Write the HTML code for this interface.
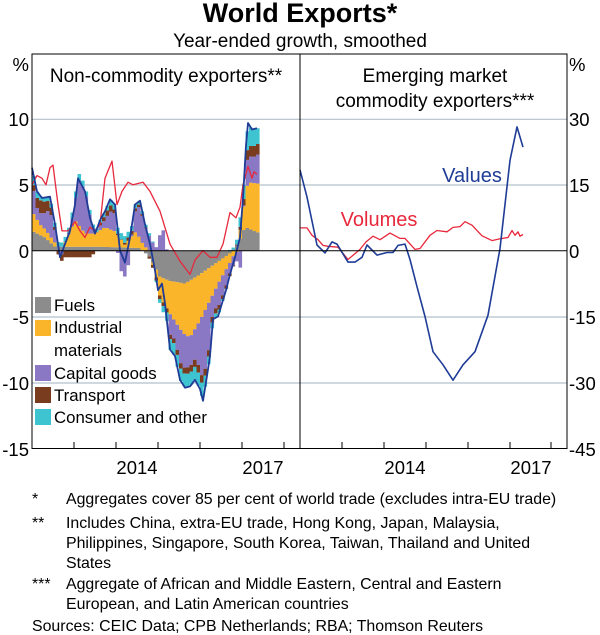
<!DOCTYPE html>
<html><head><meta charset="utf-8"><style>
body{margin:0;background:#fff;width:600px;height:635px;overflow:hidden;font-family:"Liberation Sans",Arial,sans-serif;}
svg{position:absolute;left:0;top:0}
</style></head><body>
<svg id="s" width="600" height="635" xmlns="http://www.w3.org/2000/svg" font-family="Liberation Sans, Arial, sans-serif">
<text x="300" y="22" text-anchor="middle" font-size="27" font-weight="bold">World Exports*</text>
<text x="300" y="47" text-anchor="middle" font-size="19">Year-ended growth, smoothed</text>
<g id="grid" stroke="#b4c0cc" stroke-width="1.2">
<line x1="32" x2="567" y1="119.3" y2="119.3"/><line x1="32" x2="567" y1="185" y2="185"/>
<line x1="32" x2="567" y1="317" y2="317"/><line x1="32" x2="567" y1="383" y2="383"/>
</g>
<g id="bars"></g>
<g id="lines"></g>
<line x1="32" x2="567" y1="250.7" y2="250.7" stroke="#000" stroke-width="1"/>
<rect x="32" y="54" width="535" height="394.5" fill="none" stroke="#000" stroke-width="1"/>
<line x1="300" x2="300" y1="54" y2="448.5" stroke="#000"/>
<g stroke="#000" stroke-width="1">
<line x1="74" x2="74" y1="448" y2="442"/><line x1="116" x2="116" y1="448" y2="442"/><line x1="158" x2="158" y1="448" y2="442"/><line x1="200" x2="200" y1="448" y2="442"/><line x1="242" x2="242" y1="448" y2="442"/><line x1="284" x2="284" y1="448" y2="442"/>
<line x1="342" x2="342" y1="448" y2="442"/><line x1="384" x2="384" y1="448" y2="442"/><line x1="426" x2="426" y1="448" y2="442"/><line x1="468" x2="468" y1="448" y2="442"/><line x1="510" x2="510" y1="448" y2="442"/><line x1="551" x2="551" y1="448" y2="442"/>
</g>
<g font-size="18.5" text-anchor="end">
<text x="29" y="71">%</text>
<text x="29" y="126">10</text><text x="29" y="192">5</text><text x="29" y="258">0</text>
<text x="29" y="324">-5</text><text x="29" y="390">-10</text><text x="29" y="456">-15</text>
</g>
<g font-size="18.5">
<text x="569" y="71">%</text>
<text x="569" y="126">30</text><text x="569" y="192">15</text><text x="569" y="258">0</text>
<text x="569" y="324">-15</text><text x="569" y="390">-30</text><text x="569" y="456">-45</text>
</g>
<g font-size="18.5" text-anchor="middle">
<text x="137" y="474">2014</text><text x="263" y="474">2017</text>
<text x="405" y="474">2014</text><text x="531" y="474">2017</text>
</g>
<g font-size="19" text-anchor="middle">
<text x="166" y="82">Non-commodity exporters**</text>
<text x="435" y="82">Emerging market</text>
<text x="435" y="107">commodity exporters***</text>
</g>
<text x="472" y="182" font-size="20" fill="#1f3c96" text-anchor="middle">Values</text>
<text x="379" y="226" font-size="20" fill="#e8283c" text-anchor="middle">Volumes</text>
<g font-size="16.8">
<rect x="35" y="297" width="16" height="16" fill="#8c8c8c"/><text x="54" y="311">Fuels</text>
<rect x="35" y="320" width="16" height="16" fill="#fbb52a"/><text x="54" y="333">Industrial</text>
<text x="54" y="356">materials</text>
<rect x="35" y="365" width="16" height="16" fill="#8a78c4"/><text x="54" y="379">Capital goods</text>
<rect x="35" y="387" width="16" height="16" fill="#7a3c1e"/><text x="54" y="401">Transport</text>
<rect x="35" y="409" width="16" height="16" fill="#3ec4d0"/><text x="54" y="423">Consumer and other</text>
</g>
<g font-size="15.9">
<text x="32" y="504">*</text><text x="66" y="504">Aggregates cover 85 per cent of world trade (excludes intra-EU trade)</text>
<text x="32" y="528">**</text><text x="66" y="528">Includes China, extra-EU trade, Hong Kong, Japan, Malaysia,</text>
<text x="66" y="548">Philippines, Singapore, South Korea, Taiwan, Thailand and United</text>
<text x="66" y="568">States</text>
<text x="32" y="589">***</text><text x="66" y="589">Aggregate of African and Middle Eastern, Central and Eastern</text>
<text x="66" y="609">European, and Latin American countries</text>
<text x="32" y="631">Sources: CEIC Data; CPB Netherlands; RBA; Thomson Reuters</text>
</g>
</svg>
<script>
function interp(pts,x){for(var i=0;i<pts.length-1;i++){if(x<=pts[i+1][0]){var a=pts[i],b=pts[i+1];var t=(x-a[0])/(b[0]-a[0]);return a[1]+t*(b[1]-a[1]);}}return pts[pts.length-1][1];}
function P(o){var r=[];for(var k in o)r.push([+k,o[k]]);r.sort(function(a,b){return a[0]-b[0]});return r;}
var T=[[32,6.3],[37,4.5],[42,4.0],[50,4.1],[55,2],[60,-0.5],[65,0.5],[70,1.5],[75,3.5],[78,5.5],[85,4.5],[90,2.5],[95,1.3],[100,2.3],[105,3],[110,3.9],[115,3.5],[120,0],[125,-0.9],[130,1],[135,3.5],[140,3.8],[145,2],[150,0.5],[155,-1.5],[158,-3],[162,-2.5],[165,-4],[170,-7.5],[175,-8],[180,-9.8],[185,-10.4],[190,-10.3],[195,-9.8],[200,-10.5],[203,-11.4],[207,-9.5],[210,-8],[213,-5.2],[218,-5],[222,-4],[226,-3],[230,-1.8],[235,-0.5],[240,1],[243,4],[246,8],[248,9.7],[252,9.2],[257,9.3]];
var F=P({32:1.5,45:1.0,55:0.3,100:0.3,140:0.2,150:-0.5,160:-2,170:-2.3,185:-2.5,200:-1.8,215:-1,230:-0.2,238:0.5,245:1.8,257:1.4});
var I=P({32:1.5,40:0.8,55:0.3,60:-0.2,65:0.3,75:2,85:1,95:1,105:1.5,115:1.2,125:0.2,135:1.2,145:0.3,155:-0.3,160:-1.5,170:-2.5,180:-3.5,190:-4.3,200:-3.5,210:-2.5,220:-1.5,230:-0.7,238:0,243:1.5,248:3.5,257:3.7});
var R=P({32:0.3,40:1,50:0.7,55:0.2,60:-0.5,80:-0.5,90:-0.5,100:0.2,110:0.5,120:0,130:0.3,145:0.1,150:-0.2,165:-0.3,180:-0.4,200:-0.6,215:-0.4,230:-0.2,240:0.2,248:0.8,257:0.8});
var C=P({32:0.8,40:0.3,60:0.3,78:0.5,100:0.2,110:0.4,125:0.5,140:0.2,150:0.2,160:-0.3,170:-0.8,185:-1,203:-1,210:-0.5,220:-0.2,235:0.2,248:1.5,257:1.2});
var cols=["#8c8c8c","#fbb52a","#8a78c4","#7a3c1e","#3ec4d0"];
var s=13.17,z=250.7,h="";
for(var x=32;x<257;x+=3.5){var xm=x+1.75;var t=interp(T,xm),f=interp(F,xm),i=interp(I,xm),r=interp(R,xm),c=interp(C,xm);var p=t-f-i-r-c;var v=[f,i,p,r,c];var up=0,dn=0;
for(var k=0;k<5;k++){var a=v[k];if(a>=0){h+='<rect x="'+x+'" y="'+(z-(up+a)*s)+'" width="3.6" height="'+(a*s)+'" fill="'+cols[k]+'"/>';up+=a;}else{h+='<rect x="'+x+'" y="'+(z-dn*s)+'" width="3.6" height="'+(-a*s)+'" fill="'+cols[k]+'"/>';dn+=a;}}}
document.getElementById("bars").innerHTML=h;
var RL=[[32,5],[37,5.7],[42,5.5],[46,5],[50,6.3],[53,6.5],[58,3.5],[62,1.5],[68,1.5],[75,2.2],[80,1.5],[85,1],[90,1.8],[95,1.5],[100,2],[105,5.5],[112,6.8],[117,3.5],[122,4.5],[128,5.2],[133,5],[143,5.2],[150,4.5],[160,3],[170,0.5],[180,-0.8],[190,-1.8],[195,-0.7],[203,0],[210,-0.5],[217,-0.5],[223,0.5],[230,2.9],[236,2.5],[240,3.3],[243,5],[248,6.4],[252,5.5],[254,6],[257,5.8]];
function pl(a,sc,col,w){return '<polyline fill="none" stroke="'+col+'" stroke-width="'+w+'" stroke-linejoin="round" points="'+a.map(function(p){return p[0]+','+(z-p[1]*sc).toFixed(1)}).join(' ')+'"/>';}
var VB=[[300,18.4],[307,12.2],[317,1.3],[325,-0.5],[332,2],[337,1.5],[348,-2.6],[355,-2.6],[362,-1.5],[367,1.3],[377,-1],[387,-0.4],[393,-0.4],[398,1.2],[405,1.5],[410,-2],[417,-8.2],[425,-15],[433,-23],[443,-26],[453,-29.5],[463,-26],[475,-23],[488,-14.7],[500,0.5],[510,20.6],[517,28.2],[523,23.6]];
var VR=[[300,5.2],[307,5.2],[312,3.5],[318,2.5],[323,1.2],[328,1],[338,0.8],[348,-2],[360,0.3],[366,2],[373,3.3],[380,2.5],[390,4],[400,2.8],[405,2.8],[415,0.3],[420,0.5],[430,3.5],[437,4.6],[447,4.3],[453,5.3],[460,5.5],[465,6.6],[472,5.8],[482,3.4],[492,2.3],[500,2.7],[508,3],[512,4.6],[515,3.5],[518,4.3],[520,3.3],[523,3.7]];
document.getElementById("lines").innerHTML=pl(RL,s,"#e8283c",1.3)+pl(T,s,"#1f3c96",1.8)+pl(VR,s/3,"#e8283c",1.3)+pl(VB,s/3,"#1f3c96",1.6);
</script>
</body></html>
